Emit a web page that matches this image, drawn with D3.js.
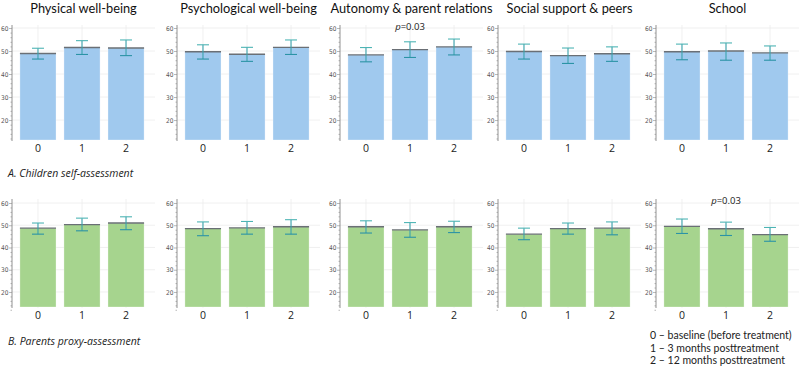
<!DOCTYPE html>
<html>
<head>
<meta charset="utf-8">
<script src="https://cdn.jsdelivr.net/npm/d3@7"></script>
<style>
  body { margin: 0; background: #fff; }
  svg { display: block; font-family: "Open Sans", "Noto Sans", sans-serif; }
</style>
</head>
<body>
<div id="chart"></div>
<script>
// panel titles and time points
const domains = ['Physical well-being', 'Psychological well-being', 'Autonomy & parent relations', 'Social support & peers', 'School'];
const timePoints = ['0', '1', '2'];
const yTicks = [20, 30, 40, 50, 60];

// A. children self-assessment: mean, lower, upper for time 0,1,2
const childMean = [[48.9, 51.5, 51.3], [49.7, 48.6, 51.6], [48.3, 50.6, 51.8], [49.8, 48.0, 48.8], [49.7, 50.0, 49.2]];
const childLow  = [[46.5, 48.5, 48.0], [46.5, 45.5, 48.5], [45.3, 47.2, 48.3], [46.5, 44.6, 45.5], [46.2, 46.0, 46.0]];
const childHigh = [[51.2, 54.5, 54.8], [52.7, 51.6, 54.8], [51.5, 54.0, 55.2], [53.0, 51.3, 51.8], [53.0, 53.5, 52.2]];
const childP    = [null, null, 'p=0.03', null, null];

// B. parents proxy-assessment
const parentMean = [[48.7, 50.3, 51.0], [48.5, 48.8, 49.3], [49.3, 47.9, 49.3], [46.0, 48.5, 48.7], [49.5, 48.4, 45.8]];
const parentLow  = [[46.0, 47.5, 48.0], [45.3, 46.0, 46.0], [46.5, 44.6, 46.7], [43.5, 46.0, 45.7], [46.3, 45.4, 42.8]];
const parentHigh = [[51.0, 53.2, 53.8], [51.5, 51.7, 52.5], [52.0, 51.2, 51.8], [48.7, 51.0, 51.5], [52.8, 51.4, 49.0]];
const parentP    = [null, null, null, null, 'p=0.03'];

const legendLines = ['0 – baseline (before treatment)', '1 – 3 months posttreatment', '2 – 12 months posttreatment'];

const width = 800, height = 368;
const axisX = [12, 177, 340, 498, 656];
const plotW = 143;

const svg = d3.select('#chart').append('svg')
  .attr('width', width).attr('height', height);

const rows = [
  { mean: childMean, low: childLow, high: childHigh, p: childP, fill: '#a0c9ee', domain: [10.9, 61.3], range: [141, 25], label: 'A. Children self-assessment', labelY: 177 },
  { mean: parentMean, low: parentLow, high: parentHigh, p: parentP, fill: '#a6d48e', domain: [12.8, 61.8], range: [308, 199], label: 'B. Parents proxy-assessment', labelY: 345 }
];

// titles
svg.selectAll('.title').data(domains).enter().append('text')
  .attr('class', 'title')
  .attr('x', (d, i) => axisX[i] + plotW / 2)
  .attr('y', 13)
  .attr('text-anchor', 'middle')
  .attr('font-family', 'Lato, sans-serif')
  .attr('font-size', 12.8)
  .attr('fill', '#111')
  .text(d => d);

rows.forEach((row) => {
  const y = d3.scaleLinear().domain(row.domain).range(row.range);

  domains.forEach((dom, i) => {
    const g = svg.append('g');
    const x = d3.scaleBand().domain(timePoints)
      .range([axisX[i], axisX[i] + 140]).paddingInner(0.18).paddingOuter(0.18);

    // grid
    g.selectAll('.hgrid').data(yTicks).enter().append('line')
      .attr('x1', axisX[i]).attr('x2', axisX[i] + plotW)
      .attr('y1', d => y(d)).attr('y2', d => y(d))
      .attr('stroke', '#ececec').attr('stroke-width', 0.8);
    g.selectAll('.vgrid').data(timePoints).enter().append('line')
      .attr('x1', d => x(d) + x.bandwidth() / 2).attr('x2', d => x(d) + x.bandwidth() / 2)
      .attr('y1', row.range[1]).attr('y2', row.range[0])
      .attr('stroke', '#ececec').attr('stroke-width', 0.8);

    const data = timePoints.map((t, j) => ({ t, m: row.mean[i][j], lo: row.low[i][j], hi: row.high[i][j] }));

    // bars
    g.selectAll('.bar').data(data).enter().append('rect')
      .attr('x', d => x(d.t)).attr('width', x.bandwidth())
      .attr('y', d => y(d.m)).attr('height', d => y(row.domain[0]) - 1 - y(d.m))
      .attr('fill', row.fill)
      .attr('stroke', '#ffffff').attr('stroke-opacity', 0.5).attr('stroke-width', 0.6);
    g.selectAll('.meanline').data(data).enter().append('line')
      .attr('x1', d => x(d.t)).attr('x2', d => x(d.t) + x.bandwidth())
      .attr('y1', d => y(d.m)).attr('y2', d => y(d.m))
      .attr('stroke', '#6a6f75').attr('stroke-width', 1.4);

    // error bars
    const cx = d => x(d.t) + x.bandwidth() / 2;
    const cap = 6;
    g.selectAll('.err').data(data).enter().append('line')
      .attr('x1', cx).attr('x2', cx)
      .attr('y1', d => y(d.lo)).attr('y2', d => y(d.hi))
      .attr('stroke', '#3aa3ad').attr('stroke-width', 1.1);
    g.selectAll('.capHi').data(data).enter().append('line')
      .attr('x1', d => cx(d) - cap).attr('x2', d => cx(d) + cap)
      .attr('y1', d => y(d.hi)).attr('y2', d => y(d.hi))
      .attr('stroke', '#4db4b4').attr('stroke-width', 1.1);
    g.selectAll('.capLo').data(data).enter().append('line')
      .attr('x1', d => cx(d) - cap).attr('x2', d => cx(d) + cap)
      .attr('y1', d => y(d.lo)).attr('y2', d => y(d.lo))
      .attr('stroke', '#2b93a6').attr('stroke-width', 1.1);

    // y axis
    const yAxis = d3.axisLeft(y).tickValues(d3.range(12, 62, 2)).tickSize(2)
      .tickFormat(d => yTicks.includes(d) ? d : '');
    const ya = g.append('g').attr('transform', `translate(${axisX[i]},0)`).call(yAxis);
    ya.select('.domain').attr('stroke', '#777').attr('stroke-width', 0.8).attr('d', `M0,${row.range[0]}V${row.range[1]}`);
    ya.selectAll('.tick line').attr('stroke', '#888').attr('stroke-width', 0.6)
      .attr('x2', d => yTicks.includes(d) ? -3 : -1.5);
    ya.selectAll('.tick text')
      .attr('x', -3.5)
      .attr('font-size', 6.5)
      .attr('font-family', '"Liberation Sans Narrow", "DejaVu Sans Condensed", sans-serif')
      .attr('fill', '#555');

    // x labels
    g.selectAll('.xlab').data(timePoints).enter().append('text')
      .attr('x', d => x(d) + x.bandwidth() / 2)
      .attr('y', row.range[0] + 11)
      .attr('text-anchor', 'middle')
      .attr('font-size', 10.5)
      .attr('fill', '#222')
      .text(d => d);

    // p value
    if (row.p[i]) {
      const pt = g.append('text')
        .attr('x', x('1') + x.bandwidth() / 2)
        .attr('y', row.range[1] + 5)
        .attr('text-anchor', 'middle')
        .attr('font-size', 9.5)
        .attr('fill', '#222');
      pt.append('tspan').attr('font-style', 'italic').text('p');
      pt.append('tspan').text(row.p[i].slice(1));
    }
  });

  svg.append('text')
    .attr('x', 8).attr('y', row.labelY)
    .attr('font-size', 10.5)
    .attr('font-style', 'italic')
    .attr('fill', '#222')
    .text(row.label);
});

// legend
svg.selectAll('.legend').data(legendLines).enter().append('text')
  .attr('x', 650)
  .attr('y', (d, i) => 339 + i * 12.5)
  .attr('font-family', 'Lato, sans-serif')
  .attr('font-size', 10.5)
  .attr('fill', '#222')
  .text(d => d);
</script>
</body>
</html>
